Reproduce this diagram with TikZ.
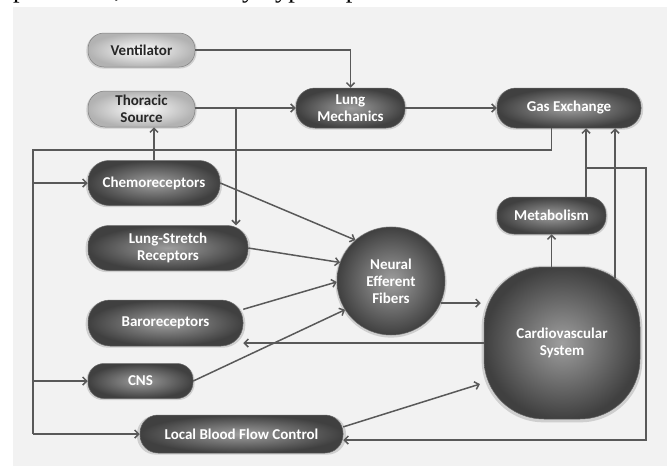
\documentclass[tikz,border=0pt]{standalone}
\usepackage{fontspec}
\setmainfont{Carlito}
\newfontfamily\capfont{Liberation Serif}
\usetikzlibrary{arrows.meta, shadows, calc}

\begin{document}
\begin{tikzpicture}[x=1pt,y=-1pt,
  ln/.style={draw=black!65, line width=1.5pt},
  arr/.style={ln, -{Straight Barb[length=4pt,width=8pt]}},
  box/.style={draw=black!60, line width=0.5pt, inner color=black!38, outer color=black!75,
    text=white, font=\bfseries\fontsize{15}{17}\selectfont, align=center, inner sep=0pt,
    drop shadow={opacity=0.3, shadow xshift=0pt, shadow yshift=-1pt, shadow scale=1.03}},
  pale/.style={box, draw=black!50, inner color=white, outer color=black!30, text=black!85},
  pill/.style n args={3}{minimum width=#1pt, minimum height=#2pt, rounded corners=#3pt}]
\useasboundingbox (0,0) rectangle (667,466);
\fill[black!5] (13,7) rectangle (667,466);
\node[anchor=base west, inner sep=0pt, font=\capfont\fontsize{26.5}{30}\selectfont] (cap) at (13,-2.5) {presented, followed by hypercapnic scenarios.};

% boxes
\node[pale, pill={107}{34}{16}] (vent) at (141.5,50) {Ventilator};
\node[pale, pill={107}{36}{17}] (thor) at (141.5,109) {Thoracic\\Source};
\node[box, pill={109}{40}{19}] (lung) at (350.5,108) {Lung\\Mechanics};
\node[box, pill={144}{40}{19}] (gas) at (569,108) {Gas Exchange};
\node[box, pill={132}{45}{21}] (chemo) at (154,183) {Chemoreceptors};
\node[box, pill={160}{45}{21}] (stretch) at (168,248) {Lung-Stretch\\Receptors};
\node[box, pill={155}{46}{22}] (baro) at (165.5,323) {Baroreceptors};
\node[box, pill={105}{35}{16}] (cns) at (140.5,381) {CNS};
\node[box, pill={203}{38}{18}] (lbfc) at (241.5,434) {Local Blood Flow Control};
\node[box, pill={109}{37}{17}] (metab) at (551.5,215.5) {Metabolism};
\node[box, circle, minimum size=108pt] (neural) at (391,281) {Neural\\Efferent\\Fibers};
\node[box, pill={156}{152}{60}] (cardio) at (562,343) {Cardiovascular\\System};

\coordinate (split) at (236,108);
\coordinate (fb) at (33,150);
\coordinate (m1) at (586,168);
\coordinate (rc) at (646,168);
\coordinate (c2) at (615,278);

% top row
\draw[arr] (vent.east) -| (lung.north);
\draw[arr] (thor.east |- lung.west) -- (lung.west);
\draw[arr] (split) -- (split |- stretch.north);
\draw[arr] (lung.east) -- (gas.west);
\draw[arr] (chemo.north) -- (chemo.north |- thor.south);
% feedback from gas exchange
\draw[ln] (gas.south -| metab.north) |- (fb) -- (fb |- lbfc.west);
\draw[arr] (fb |- chemo.west) -- (chemo.west);
\draw[arr] (fb |- cns.west) -- (cns.west);
\draw[arr] (fb |- lbfc.west) -- (lbfc.west);
% into the fibers
\draw[arr] (chemo.east) -- (neural.131);
\draw[arr] (stretch.east) -- (neural.160);
\draw[arr] (baro.10) -- (neural.181);
\draw[arr] (cns.east) -- (neural.212);
% right side
\draw[arr, shorten >=3pt] (neural.-24) -- (neural.-24 -| cardio.west);
\draw[arr] (cardio.west) -- (cardio.west -| baro.east);
\draw[arr] (metab.south |- cardio.north) -- (metab.south);
\draw[arr] (m1 |- metab.north) -- (m1 |- gas.south);
\draw[arr] (m1) -- (rc) |- ([yshift=-6pt]lbfc.east);
\draw[arr] (c2) -- (c2 |- gas.south);
\draw[arr, shorten >=4pt] (lbfc.4) -- (cardio.207);
\end{tikzpicture}
\end{document}
